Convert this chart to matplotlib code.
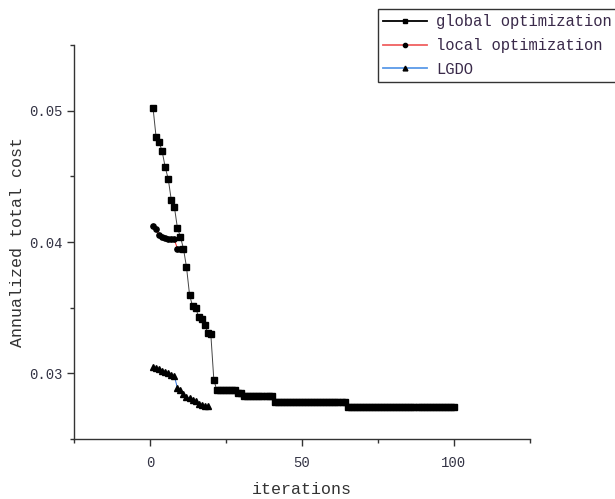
import matplotlib
matplotlib.use("Agg")
import matplotlib.pyplot as plt
from matplotlib.ticker import FormatStrFormatter, FixedLocator

# ---- data ----
global_x = list(range(1, 101))
global_y = ([0.0502, 0.0480, 0.0476, 0.0469, 0.0457, 0.0448, 0.0432, 0.0427, 0.0411, 0.0404,
             0.0395, 0.0381, 0.0360, 0.0351, 0.0350, 0.0343, 0.0341, 0.0337, 0.0331, 0.0330,
             0.0295]
            + [0.0287] * 7      # 22-28
            + [0.0285] * 2      # 29-30
            + [0.0283] * 10     # 31-40
            + [0.0278] * 24     # 41-64
            + [0.0274] * 36)    # 65-100

local_x = [1, 2, 3, 4, 5, 6, 7, 8, 9, 10]
local_y = [0.0412, 0.0410, 0.0405, 0.0404, 0.0403, 0.04025, 0.0402, 0.0402, 0.0395, 0.0395]

lgdo_x = list(range(1, 20))
lgdo_y = [0.0305, 0.0304, 0.0303, 0.0302, 0.0301, 0.0300, 0.0299, 0.0298, 0.0289, 0.0287,
          0.0284, 0.0282, 0.0281, 0.0280, 0.0279, 0.0277, 0.0276, 0.0275, 0.0275]

series_names = ["global optimization", "local optimization", "LGDO"]
x_label = "iterations"
y_label = "Annualized total cost"

FONT = "Liberation Mono"

fig = plt.figure(figsize=(6.15, 4.99), dpi=100)
ax = fig.add_axes([74 / 615, 1 - 439 / 499, (530 - 74) / 615, (439 - 45) / 499])

ax.plot(global_x, global_y, color="#444444", lw=0.7, marker="s", ms=4.0,
        mfc="black", mec="black", label=series_names[0])
ax.plot(local_x, local_y, color="#ff2020", lw=0.7, marker="o", ms=3.8,
        mfc="black", mec="black", label=series_names[1])
ax.plot(lgdo_x, lgdo_y, color="#2a6fdb", lw=0.7, marker="^", ms=4.3,
        mfc="black", mec="black", label=series_names[2])

ax.set_xlim(-25, 125)
ax.set_ylim(0.025, 0.055)

ax.xaxis.set_major_locator(FixedLocator([0, 50, 100]))
ax.xaxis.set_minor_locator(FixedLocator([-25, 25, 75, 125]))
ax.yaxis.set_major_locator(FixedLocator([0.03, 0.04, 0.05]))
ax.yaxis.set_minor_locator(FixedLocator([0.025, 0.035, 0.045, 0.055]))
ax.yaxis.set_major_formatter(FormatStrFormatter("%.2f"))

for s in ["top", "right"]:
    ax.spines[s].set_visible(False)
for s in ["left", "bottom"]:
    ax.spines[s].set_color("#333333")
    ax.spines[s].set_linewidth(1.0)

ax.tick_params(which="major", direction="out", length=5, width=1, color="#333333",
               labelsize=10, labelcolor="#333344")
ax.tick_params(axis="x", which="major", pad=7)
ax.tick_params(which="minor", direction="out", length=3, width=1, color="#333333")
for lab in ax.get_xticklabels() + ax.get_yticklabels():
    lab.set_fontfamily(FONT)

ax.set_xlabel(x_label, fontfamily=FONT, fontsize=12, color="#333333", labelpad=9)
ax.set_ylabel(y_label, fontfamily=FONT, fontsize=12, color="#333333", labelpad=3)

leg = fig.legend(loc="upper left", bbox_to_anchor=(378 / 615, 1 - 9 / 499),
                 prop={"family": FONT, "size": 11.2}, frameon=True, fancybox=False,
                 edgecolor="black", borderpad=0.35, handlelength=2.8, handletextpad=0.6,
                 labelspacing=0.55, markerscale=0.8, borderaxespad=0)
leg.get_frame().set_linewidth(1.0)
legend_line_colors = ["#000000", "#f06060", "#5a9ae8"]
for h, c in zip(leg.legend_handles, legend_line_colors):
    h.set_linewidth(1.3)
    h.set_color(c)
    h.set_markerfacecolor("black")
    h.set_markeredgecolor("black")
for t in leg.get_texts():
    t.set_color("#3a2a4a")

fig.savefig("out.png", dpi=100)
